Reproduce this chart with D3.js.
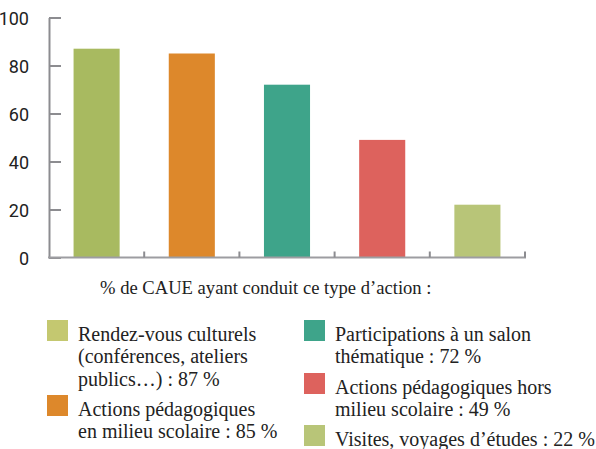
<!DOCTYPE html>
<meta charset="utf-8">
<script src="https://cdn.jsdelivr.net/npm/d3@7"></script>
<style>
body{margin:0;background:#fff;}
svg{display:block;}
.tick text{font-family:Roboto, sans-serif;font-size:18px;fill:#222;}
.legend text{font-family:"Liberation Serif", "Times New Roman", serif;font-size:20px;fill:#222;}
</style>
<div id="vis"></div>
<script>
// data
var categories = ["Rendez-vous culturels", "Actions pédagogiques en milieu scolaire",
  "Participations à un salon thématique", "Actions pédagogiques hors milieu scolaire",
  "Visites, voyages d’études"];
var values = [87, 85, 72, 49, 22];
var barColors = ["#a8ba60", "#dd882b", "#3ea48a", "#dd625d", "#b8c578"];
var swatchColors = ["#c4c870", "#dd882b", "#3ea48a", "#dd625d", "#b8c578"];
var yTicks = [0, 20, 40, 60, 80, 100];
var legendTitle = "% de CAUE ayant conduit ce type d’action :";
// legend text, one array of lines per category (value appended to the last line)
var legendLines = [
  ["Rendez-vous culturels", "(conférences, ateliers", "publics…) : "],
  ["Actions pédagogiques", "en milieu scolaire : "],
  ["Participations à un salon", "thématique : "],
  ["Actions pédagogiques hors", "milieu scolaire : "],
  ["Visites, voyages d’études : "]
];

var width = 596, height = 449;
var svg = d3.select("#vis").append("svg")
  .attr("width", width).attr("height", height);

var x = d3.scaleBand().domain(categories).range([49, 525])
  .paddingInner(0.516).paddingOuter(0.258);
var y = d3.scaleLinear().domain([0, 100]).range([257.5, 17.5]);

// bars
svg.selectAll("rect.bar").data(values).enter().append("rect")
  .attr("class", "bar")
  .attr("x", function(d, i) { return x(categories[i]); })
  .attr("y", function(d) { return y(d); })
  .attr("width", x.bandwidth())
  .attr("height", function(d) { return y(0) - y(d); })
  .attr("fill", function(d, i) { return barColors[i]; });

// y axis, ticks pointing inward
var yAxis = svg.append("g")
  .attr("transform", "translate(49,0)")
  .call(d3.axisLeft(y).tickValues(yTicks).tickSizeInner(-12).tickSizeOuter(0).tickPadding(20));
yAxis.select(".domain").attr("stroke", "#8c8c90").attr("stroke-width", 2);
yAxis.selectAll(".tick line").attr("stroke", "#8c8c90").attr("stroke-width", 2);
yAxis.selectAll(".tick text").attr("dy", "0.4em");

// x axis: baseline with small separators between categories
var sep = categories.map(function(c) { return x(c) + x.bandwidth() + x.step() * x.paddingInner() / 2; });
svg.append("line").attr("x1", 48).attr("x2", 526).attr("y1", y(0)).attr("y2", y(0))
  .attr("stroke", "#9d9da1").attr("stroke-width", 2);
svg.selectAll("line.sep").data(sep).enter().append("line")
  .attr("class", "sep")
  .attr("x1", function(d) { return d; }).attr("x2", function(d) { return d; })
  .attr("y1", y(0)).attr("y2", y(0) - 6)
  .attr("stroke", "#8c8c90").attr("stroke-width", 2);

// legend
var lg = svg.append("g").attr("class", "legend");
lg.append("text").attr("x", 100).attr("y", 294).style("font-size", "18.6px").text(legendTitle);

var itemPos = [[47, 320], [47, 395], [304, 320], [304, 373], [304, 425]];
var items = lg.selectAll("g.item").data(categories).enter().append("g")
  .attr("class", "item")
  .attr("transform", function(d, i) { return "translate(" + itemPos[i][0] + "," + itemPos[i][1] + ")"; });
items.append("rect").attr("width", 21).attr("height", 21)
  .attr("fill", function(d, i) { return swatchColors[i]; });
items.append("text").attr("x", 31).attr("y", 20.5)
  .each(function(d, i) {
    var t = d3.select(this), lines = legendLines[i];
    lines.forEach(function(l, j) {
      t.append("tspan").attr("x", 31).attr("dy", j ? 22.5 : 0)
        .text(j === lines.length - 1 ? l + values[i] + " %" : l);
    });
  });
</script>
